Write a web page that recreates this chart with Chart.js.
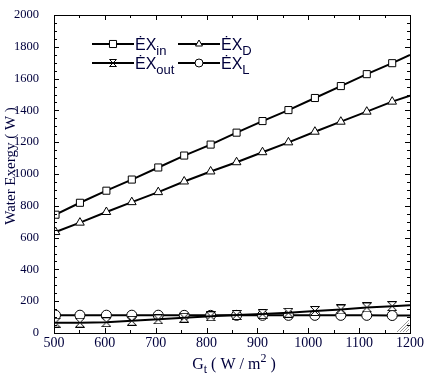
<!DOCTYPE html>
<html><head><meta charset="utf-8">
<script src="https://cdn.jsdelivr.net/npm/chart.js@4"></script>
<style>html,body{margin:0;padding:0;background:#fff}#wrap{width:427px;height:382px}</style>
</head><body><div id="wrap"><canvas id="c" width="427" height="382"></canvas></div>
<script>
// Irradiance values (W/m2); first and last are line end points without markers
const gValues = [500, 503, 551, 603, 653, 705, 756, 808, 859, 910, 961, 1013, 1064, 1115, 1165, 1200];
const exIn  = [735, 744, 819, 895, 965, 1041, 1116, 1185, 1260, 1333, 1402, 1478, 1553, 1628, 1697, 1749];
const exD   = [630, 635, 694, 761, 823, 886, 953, 1016, 1074, 1137, 1199, 1266, 1329, 1392, 1455, 1492];
const exOut = [64, 65, 65, 68, 77, 86, 96, 105, 113, 119, 127, 138, 148, 161, 169, 175];
const exL   = [112, 112, 112, 112, 112, 112, 111, 111, 111, 111, 111, 111, 111, 111, 110, 110];
const xTicks = [500, 600, 700, 800, 900, 1000, 1100, 1200];
const yTicks = [0, 200, 400, 600, 800, 1000, 1200, 1400, 1600, 1800, 2000];

const NAVY = '#00003c';
function hourglass(size){
  const c = document.createElement('canvas');
  c.width = size; c.height = size;
  const g = c.getContext('2d');
  const s = size - 1;
  g.lineWidth = 1; g.strokeStyle = '#000'; g.fillStyle = '#fff';
  g.beginPath();
  g.moveTo(0.5,0.5); g.lineTo(s+0.5,0.5); g.lineTo(size/2,size/2);
  g.closePath(); g.fill(); g.stroke();
  g.beginPath();
  g.moveTo(size/2,size/2); g.lineTo(0.5,s+0.5); g.lineTo(s+0.5,s+0.5);
  g.closePath(); g.fill(); g.stroke();
  return c;
}
const hgBig = hourglass(10);
const hgSmall = hourglass(8);

const last = gValues.length - 1;
function mk(vals, style, r){
  return {
    data: gValues.map((g,i)=>({x:g,y:vals[i]})),
    borderColor:'#000', borderWidth:2, backgroundColor:'#fff',
    pointStyle: style, pointBorderColor:'#000', pointBackgroundColor:'#fff', pointBorderWidth:1,
    pointRadius: ctx => (ctx.dataIndex===0||ctx.dataIndex===last)?0:r,
    tension:0, fill:false
  };
}

const decor = {
  id:'decor',
  afterDatasetsDraw(chart){
    const {ctx, chartArea:a, scales:{x,y}} = chart;
    ctx.save();
    // resize grip
    ctx.strokeStyle = '#9a9a9a'; ctx.lineWidth = 1;
    for(let k=0;k<4;k++){
      const o = 3 + k*3;
      ctx.beginPath(); ctx.moveTo(a.right-1-o, a.bottom-1); ctx.lineTo(a.right-1, a.bottom-1-o); ctx.stroke();
    }
    // frame
    ctx.strokeStyle = '#000'; ctx.lineWidth = 1;
    ctx.strokeRect(Math.round(a.left)+0.5, Math.round(a.top)+0.5, Math.round(a.right-a.left), Math.round(a.bottom-a.top));
    // ticks inward
    ctx.beginPath();
    for(let v=500; v<=1200; v+=50){
      const px = Math.round(x.getPixelForValue(v))+0.5;
      const L = (v%100===0)?5:3;
      ctx.moveTo(px, a.bottom); ctx.lineTo(px, a.bottom-L);
      ctx.moveTo(px, a.top); ctx.lineTo(px, a.top+L);
    }
    for(let v=0; v<=2000; v+=50){
      const py = Math.round(y.getPixelForValue(v))+0.5;
      const L = (v%200===0)?5:3;
      ctx.moveTo(a.left, py); ctx.lineTo(a.left+L, py);
      ctx.moveTo(a.right, py); ctx.lineTo(a.right-L, py);
    }
    ctx.stroke();
    // legend
    const items = [
      {ds:0, sub:'in', x:92, y:44, style:'rect', r:5},
      {ds:1, sub:'D', x:178, y:44, style:'triangle', r:4},
      {ds:2, sub:'out', x:92, y:63, style:hgSmall, r:4},
      {ds:3, sub:'L', x:178, y:63, style:'circle', r:4}
    ];
    items.forEach(it=>{
      ctx.strokeStyle='#000'; ctx.lineWidth=2;
      ctx.beginPath(); ctx.moveTo(it.x, it.y); ctx.lineTo(it.x+42, it.y); ctx.stroke();
      ctx.lineWidth=1; ctx.fillStyle='#fff'; ctx.strokeStyle='#000';
      Chart.helpers.drawPoint(ctx, {pointStyle:it.style, radius:it.r, borderWidth:1, rotation:0}, it.x+21, it.y);
      ctx.fillStyle = NAVY;
      ctx.textBaseline='alphabetic'; ctx.textAlign='left';
      ctx.font = '16px "Liberation Sans", Arial, sans-serif';
      const tx = it.x+43, ty = it.y+6;
      ctx.fillText('\u0116X', tx, ty);
      const w = ctx.measureText('\u0116X').width;
      ctx.font = '13px "Liberation Sans", Arial, sans-serif';
      ctx.fillText(it.sub, tx+w, ty+5);
    });
    // axis titles
    ctx.fillStyle = NAVY;
    ctx.textAlign='left'; ctx.textBaseline='alphabetic';
    const parts1 = 'G', parts2 = 't', parts3 = ' ( W / m', parts4 = '2', parts5 = ' )';
    ctx.font = '16px "Liberation Serif", serif'; const w1 = ctx.measureText(parts1).width;
    ctx.font = '12px "Liberation Serif", serif'; const w2 = ctx.measureText(parts2).width;
    ctx.font = '16px "Liberation Serif", serif'; const w3 = ctx.measureText(parts3).width;
    ctx.font = '12px "Liberation Serif", serif'; const w4 = ctx.measureText(parts4).width;
    ctx.font = '16px "Liberation Serif", serif'; const w5 = ctx.measureText(parts5).width;
    const tot = w1+w2+w3+w4+w5;
    let sx = 234 - tot/2; const by = 369;
    ctx.font = '16px "Liberation Serif", serif'; ctx.fillText(parts1, sx, by); sx+=w1;
    ctx.font = '12px "Liberation Serif", serif'; ctx.fillText(parts2, sx, by+4); sx+=w2;
    ctx.font = '16px "Liberation Serif", serif'; ctx.fillText(parts3, sx, by); sx+=w3;
    ctx.font = '12px "Liberation Serif", serif'; ctx.fillText(parts4, sx, by-7); sx+=w4;
    ctx.font = '16px "Liberation Serif", serif'; ctx.fillText(parts5, sx, by);
    // y title
    ctx.save();
    ctx.translate(15, 166); ctx.rotate(-Math.PI/2);
    ctx.font = '15px "Liberation Serif", serif'; ctx.textAlign='center';
    ctx.fillText('Water Exergy ( W )', 0, 0);
    ctx.restore();
    ctx.restore();
  }
};

new Chart(document.getElementById('c'), {
  type:'line',
  data:{ datasets:[
    mk(exIn,'rect',5),
    mk(exD,'triangle',5),
    mk(exOut,hgBig,5),
    mk(exL,'circle',5)
  ]},
  options:{
    responsive:false, animation:false, devicePixelRatio:1,
    layout:{padding:{top:15,right:17,left:0,bottom:0}},
    plugins:{legend:{display:false}, tooltip:{enabled:false}},
    scales:{
      x:{type:'linear', min:500, max:1200,
        afterBuildTicks: s => { s.ticks = xTicks.map(v=>({value:v})); },
        afterFit: s => { s.height = 49; },
        grid:{display:false}, border:{display:false},
        ticks:{color:NAVY, padding:-6, maxRotation:0, autoSkip:false, callback:v=>String(v),
          font:{family:'"Liberation Serif", serif', size:14}}},
      y:{type:'linear', min:0, max:2000,
        afterBuildTicks: s => { s.ticks = yTicks.map(v=>({value:v})); },
        afterFit: s => { s.width = 54; },
        grid:{display:false}, border:{display:false},
        ticks:{color:NAVY, padding:7, autoSkip:false, callback:v=>String(v),
          font:{family:'"Liberation Serif", serif', size:12.5}}}
    }
  },
  plugins:[decor]
});
</script></body></html>
